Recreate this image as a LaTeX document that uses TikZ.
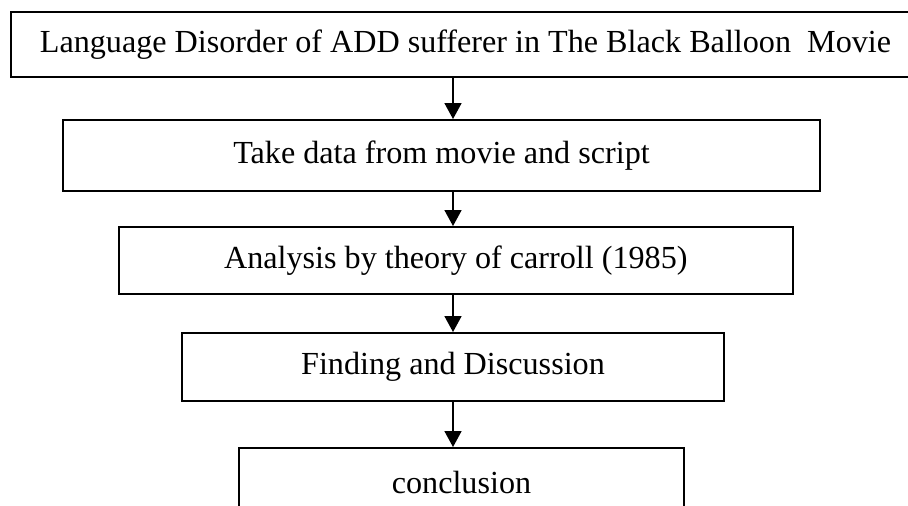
\documentclass[tikz,border=0pt]{standalone}
\usepackage{fontspec}
\setmainfont{Liberation Serif}
\usetikzlibrary{arrows.meta}

\tikzset{
    stepbox/.style={draw, line width=1.1pt, inner sep=0pt, font=\fontsize{18.3}{22}\selectfont},
    flow/.style={-{Triangle[length=9pt, width=9.5pt]}, line width=1.1pt}
}

\begin{document}
\begin{tikzpicture}[x=0.02cm, y=-0.02cm]

        \useasboundingbox (0, 0) rectangle (908, 506);
        \clip (0, 0) rectangle (908, 506);

        \coordinate (axis) at (453, 0);

        \node[stepbox, minimum width=18.18cm, minimum height=1.30cm] (topic) at (465.5, 44.5) {Language Disorder of ADD sufferer in The Black Balloon\ \ Movie};
        \node[stepbox, minimum width=15.14cm, minimum height=1.42cm] (data) at (441.5, 155.5) {Take data from movie and script};
        \node[stepbox, minimum width=13.48cm, minimum height=1.34cm] (analysis) at (455.85, 260.5) {Analysis by theory of carroll (1985)};
        \node[stepbox, minimum width=10.84cm, minimum height=1.36cm] (finding) at (453, 367) {Finding and Discussion};
        \node[stepbox, minimum width=8.90cm, minimum height=1.36cm] (conclusion) at (461.5, 482) {conclusion};

        \draw[flow] (topic.south -| axis) -- (data.north -| axis);
        \draw[flow] (data.south -| axis) -- (analysis.north -| axis);
        \draw[flow] (analysis.south -| axis) -- (finding.north -| axis);
        \draw[flow] (finding.south -| axis) -- (conclusion.north -| axis);
    \end{tikzpicture}
\end{document}
